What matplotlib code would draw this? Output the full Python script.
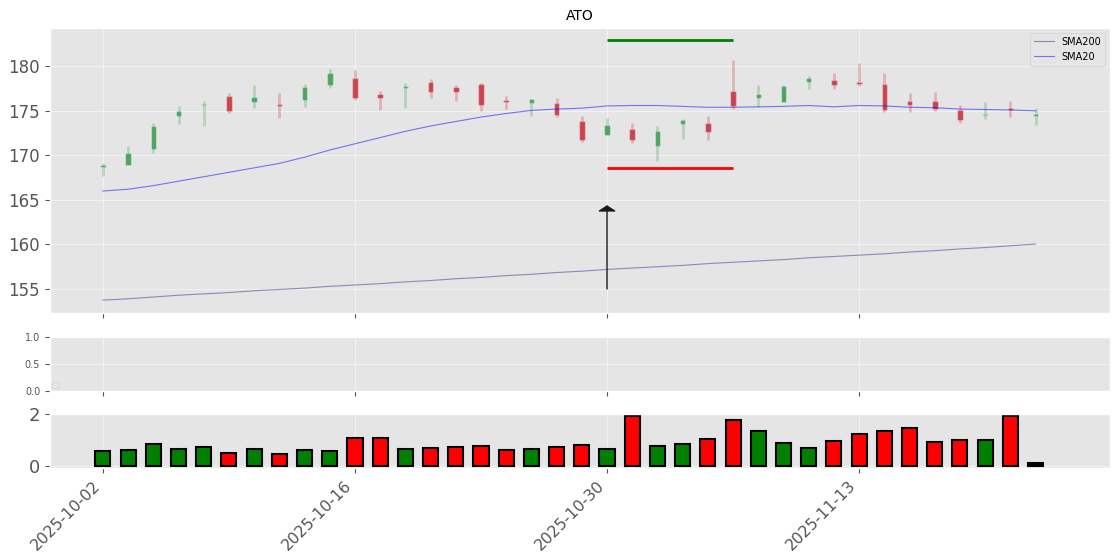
import pandas as pd
import matplotlib
matplotlib.use("Agg")
import matplotlib.pyplot as plt

plt.style.use("ggplot")
plt.rcParams["grid.alpha"] = 0.5

ticker = "ATO"
dates = pd.bdate_range("2025-10-02", periods=38)

opens = [168.7, 168.9, 170.7, 174.4, 175.6, 176.7, 176.0, 175.75, 176.2, 177.9,
         178.7, 176.9, 177.6, 178.2, 177.7, 178.0, 176.2, 175.9, 175.9, 173.85,
         172.3, 173.0, 171.0, 173.5, 173.6, 177.2, 176.4, 176.0, 178.2, 178.5,
         178.25, 178.0, 176.05, 176.05, 175.15, 174.55, 175.3, 174.4]
closes = [168.9, 170.3, 173.3, 175.0, 175.75, 175.0, 176.5, 175.55, 177.7, 179.2,
          176.4, 176.4, 177.8, 177.1, 177.1, 175.7, 176.0, 176.3, 174.5, 171.7,
          173.4, 171.7, 172.75, 174.0, 172.6, 175.5, 176.9, 177.8, 178.7, 177.9,
          178.0, 175.05, 175.6, 175.2, 173.95, 174.7, 175.15, 174.6]
highs = [169.1, 171.1, 173.6, 175.55, 176.1, 177.0, 177.9, 177.0, 178.0, 179.7,
         179.6, 177.2, 178.1, 178.6, 177.9, 178.1, 176.7, 176.35, 176.45, 174.4,
         174.2, 173.6, 173.3, 174.05, 174.4, 180.75, 177.95, 177.95, 178.9, 179.25,
         180.4, 179.25, 177.0, 177.1, 175.6, 176.0, 176.1, 175.3]
lows = [167.7, 168.9, 170.3, 173.5, 173.3, 174.8, 175.3, 174.2, 175.4, 177.6,
        176.2, 175.1, 175.3, 176.4, 176.15, 175.0, 175.2, 174.4, 174.3, 171.45,
        172.3, 171.35, 169.35, 171.8, 171.7, 175.2, 175.4, 175.95, 177.4, 177.5,
        177.75, 174.9, 174.85, 175.0, 173.65, 174.05, 174.3, 173.4]

sma20 = [166.0, 166.2, 166.6, 167.1, 167.6, 168.1, 168.6, 169.1, 169.8, 170.6,
         171.3, 172.0, 172.7, 173.3, 173.8, 174.3, 174.7, 175.05, 175.2, 175.3,
         175.55, 175.6, 175.6, 175.5, 175.4, 175.4, 175.45, 175.5, 175.6, 175.45,
         175.6, 175.55, 175.4, 175.35, 175.2, 175.15, 175.1, 175.0]
sma200 = [153.75, 153.9, 154.1, 154.3, 154.45, 154.6, 154.8, 154.95, 155.1, 155.3,
          155.45, 155.6, 155.8, 155.95, 156.15, 156.3, 156.5, 156.65, 156.85, 157.0,
          157.2, 157.35, 157.5, 157.65, 157.85, 158.0, 158.15, 158.3, 158.5, 158.65,
          158.8, 158.95, 159.15, 159.3, 159.5, 159.65, 159.85, 160.05]

volume = [0.57, 0.63, 0.83, 0.65, 0.72, 0.50, 0.65, 0.45, 0.61, 0.58,
          1.07, 1.07, 0.65, 0.69, 0.73, 0.77, 0.62, 0.65, 0.73, 0.80,
          0.65, 1.90, 0.77, 0.84, 1.03, 1.75, 1.33, 0.88, 0.69, 0.96,
          1.22, 1.33, 1.45, 0.92, 0.99, 0.99, 1.90, 0.11]
vol_colors = ["green", "green", "green", "green", "green", "red", "green", "red", "green", "green",
              "red", "red", "green", "red", "red", "red", "red", "green", "red", "red",
              "green", "red", "green", "green", "red", "red", "green", "green", "green", "red",
              "red", "red", "red", "red", "red", "green", "red", "black"]

signal_idx = 20
signal_end = 25
target_price = 182.95
stop_price = 168.55
arrow_base = 155.0
arrow_top = 164.4

x = list(range(len(dates)))

fig = plt.figure(figsize=(11.2, 5.6), dpi=100)
ax = fig.add_axes([0.0446, 0.441, 0.9464, 0.509])
ax_mid = fig.add_axes([0.0446, 0.302, 0.9464, 0.096], sharex=ax)
ax_vol = fig.add_axes([0.0446, 0.164, 0.9464, 0.097], sharex=ax)

# candles
up_col = "#4ea35f"
dn_col = "#c8444f"
for i in x:
    col = up_col if closes[i] >= opens[i] else dn_col
    ax.vlines(i, lows[i], highs[i], color=col, alpha=0.3, lw=2)
    lo = min(opens[i], closes[i])
    h = max(abs(closes[i] - opens[i]), 0.12)
    ax.bar(i, h, bottom=lo, width=0.22, color=col, edgecolor=(1, 1, 1, 0.35), lw=1)

ax.plot(x, sma200, color="navy", alpha=0.4, lw=0.8, label="SMA200")
ax.plot(x, sma20, color="blue", alpha=0.5, lw=0.8, label="SMA20")

ax.hlines(target_price, signal_idx, signal_end, color="green", lw=2)
ax.hlines(stop_price, signal_idx, signal_end, color="red", lw=2)
ax.annotate("", xy=(signal_idx, arrow_top), xytext=(signal_idx, arrow_base),
            arrowprops=dict(arrowstyle="-|>,head_width=0.55,head_length=0.35",
                            color="#1a1a1a", lw=1, shrinkA=0, shrinkB=0))

ax.set_title(ticker, fontsize=10)
ax.set_ylim(152.3, 184.3)
ax.set_xlim(-2.1, 39.95)
ax.legend(loc="upper right", fontsize=7)
ax.tick_params(axis="y", labelsize=12)
plt.setp(ax.get_xticklabels(), visible=False)

ax_mid.set_ylim(0, 1)
ax_mid.set_yticks([0.0, 0.5, 1.0])
ax_mid.tick_params(axis="y", labelsize=7)
ax_mid.legend(loc="lower left", fontsize=6, borderaxespad=0.3)
plt.setp(ax_mid.get_xticklabels(), visible=False)

ax_vol.bar(x, volume, width=0.6, color=vol_colors, edgecolor="black", lw=1.5)
ax_vol.set_ylim(-0.08, 2.0)
ax_vol.set_yticks([0, 2])
ax_vol.tick_params(axis="y", labelsize=13)

tick_pos = [0, 10, 20, 30]
ax_vol.set_xticks(tick_pos)
ax_vol.set_xticklabels([dates[i].strftime("%Y-%m-%d") for i in tick_pos],
                       rotation=45, ha="right", fontsize=11.3)

fig.savefig("out.png", dpi=100)
